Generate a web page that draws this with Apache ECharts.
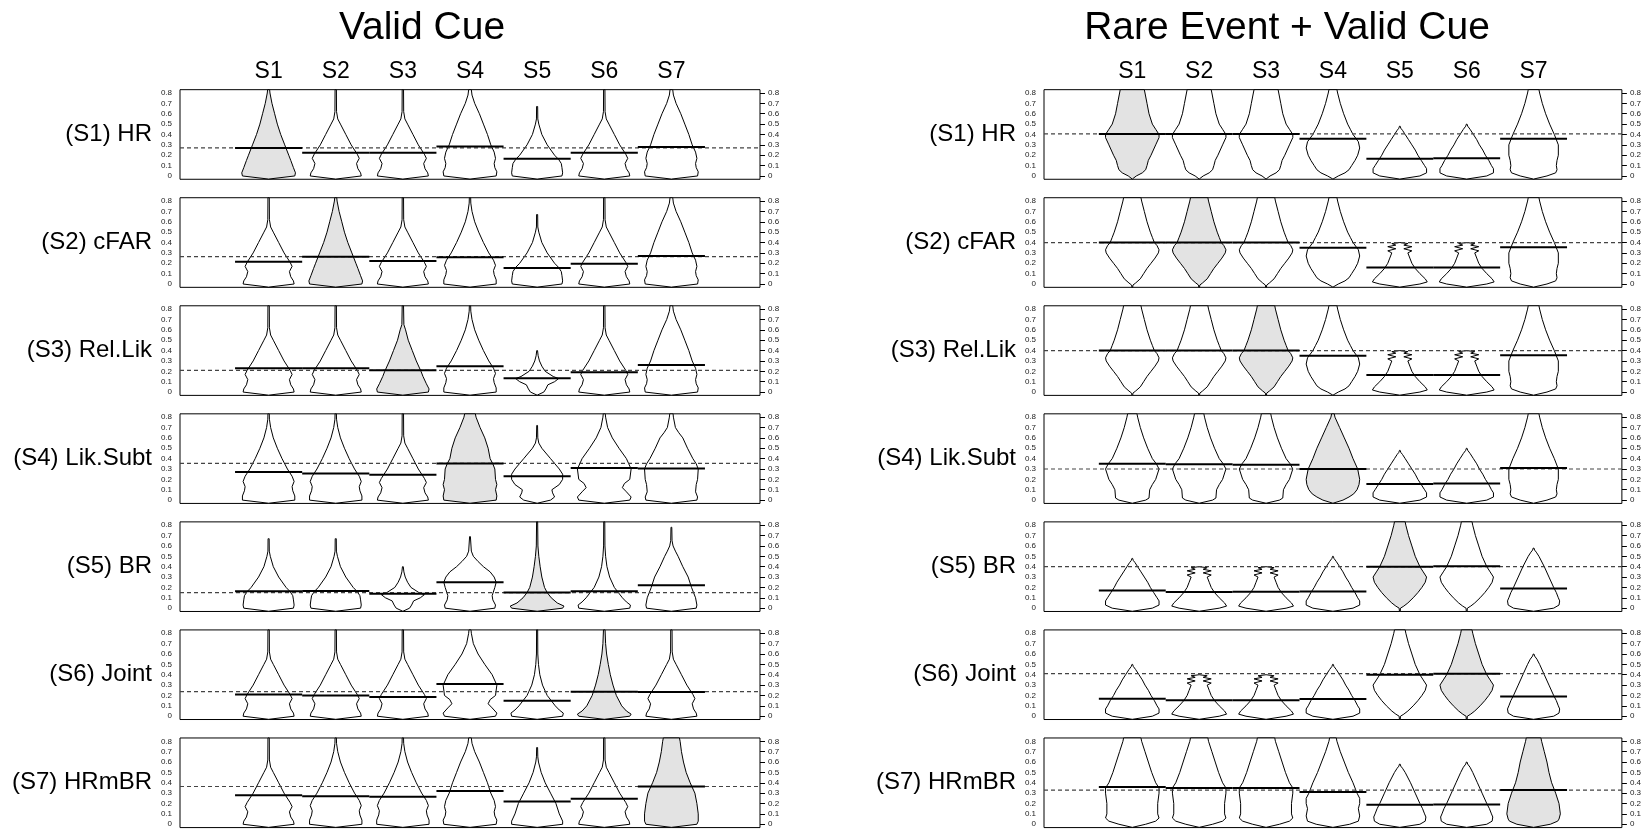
<!DOCTYPE html>
<html>
<head>
<meta charset="utf-8">
<script src="https://cdn.jsdelivr.net/npm/echarts@6/dist/echarts.min.js"></script>
<style>
  html, body { margin: 0; padding: 0; background: #ffffff; }
  #chart { width: 1644px; height: 829px; }
</style>
</head>
<body>
<div id="chart"></div>
<script>
// ---- labels ----
const panelTitles = ['Valid Cue', 'Rare Event + Valid Cue'];
const strategies = ['S1', 'S2', 'S3', 'S4', 'S5', 'S6', 'S7'];
const rowLabels = ['(S1) HR', '(S2) cFAR', '(S3) Rel.Lik', '(S4) Lik.Subt', '(S5) BR', '(S6) Joint', '(S7) HRmBR'];

// ---- mean of each evaluated strategy (columns) per generating strategy (rows) ----
const validMeans = [
  [0.27, 0.225, 0.225, 0.285, 0.165, 0.225, 0.28],
  [0.215, 0.264, 0.222, 0.257, 0.154, 0.196, 0.27],
  [0.229, 0.229, 0.21, 0.25, 0.133, 0.19, 0.26],
  [0.27, 0.256, 0.245, 0.354, 0.23, 0.31, 0.305],
  [0.163, 0.166, 0.14, 0.25, 0.15, 0.163, 0.22],
  [0.21, 0.2, 0.186, 0.31, 0.15, 0.237, 0.234],
  [0.28, 0.27, 0.265, 0.32, 0.22, 0.245, 0.364]
];
const validRef = [0.27, 0.264, 0.21, 0.354, 0.15, 0.237, 0.364];

const rareMeans = [
  [0.405, 0.405, 0.405, 0.36, 0.166, 0.17, 0.36],
  [0.40, 0.40, 0.40, 0.35, 0.16, 0.16, 0.355],
  [0.40, 0.40, 0.40, 0.35, 0.165, 0.165, 0.355],
  [0.35, 0.345, 0.34, 0.30, 0.155, 0.16, 0.31],
  [0.17, 0.155, 0.158, 0.16, 0.40, 0.405, 0.19],
  [0.168, 0.155, 0.155, 0.165, 0.40, 0.41, 0.19],
  [0.36, 0.35, 0.35, 0.31, 0.188, 0.19, 0.33]
];
const rareRef = [0.405, 0.40, 0.40, 0.30, 0.40, 0.41, 0.33];

// ---- density outlines: [value, half width] pairs, bottom to top ----
const spike = [[-0.03,0],[0,0.38],[0.03,0.37],[0.07,0.33],[0.12,0.31],[0.17,0.35],[0.21,0.32],[0.3,0.23],[0.4,0.15],[0.5,0.07],[0.55,0.03],[0.62,0.012],[0.832,0.01]];
const spikeWide = [[-0.03,0],[0,0.39],[0.04,0.39],[0.09,0.36],[0.13,0.35],[0.18,0.38],[0.23,0.35],[0.3,0.28],[0.4,0.2],[0.5,0.13],[0.6,0.07],[0.7,0.03],[0.78,0.012],[0.832,0.01]];
const spikeNarrow = [[-0.03,0],[0,0.38],[0.03,0.39],[0.06,0.33],[0.1,0.27],[0.15,0.21],[0.2,0.15],[0.3,0.08],[0.4,0.04],[0.5,0.02],[0.6,0.01],[0.832,0.008]];
const broad = [[-0.03,0],[0,0.39],[0.04,0.4],[0.08,0.37],[0.12,0.36],[0.17,0.38],[0.23,0.36],[0.3,0.31],[0.4,0.26],[0.5,0.2],[0.6,0.14],[0.7,0.07],[0.78,0.03],[0.832,0.02]];
const broadTop = [[-0.03,0],[0,0.38],[0.03,0.39],[0.08,0.36],[0.15,0.37],[0.2,0.39],[0.3,0.4],[0.35,0.37],[0.4,0.32],[0.5,0.24],[0.6,0.17],[0.65,0.11],[0.7,0.06],[0.8,0.03],[0.832,0.025]];
const short67 = [[-0.03,0],[0,0.37],[0.03,0.38],[0.08,0.37],[0.12,0.36],[0.16,0.32],[0.2,0.26],[0.3,0.15],[0.4,0.07],[0.5,0.025],[0.55,0.01],[0.67,0.008],[0.67,0]];
const short74 = [[-0.03,0],[0,0.38],[0.03,0.38],[0.1,0.33],[0.2,0.28],[0.3,0.2],[0.4,0.12],[0.5,0.06],[0.6,0.02],[0.65,0.01],[0.74,0.007],[0.74,0]];
const short78 = [[-0.03,0],[0,0.37],[0.03,0.38],[0.1,0.36],[0.15,0.33],[0.2,0.3],[0.3,0.25],[0.4,0.17],[0.5,0.1],[0.55,0.06],[0.6,0.025],[0.65,0.01],[0.78,0.006],[0.78,0]];
const small40 = [[-0.03,0],[0,0.1],[0.03,0.13],[0.07,0.16],[0.1,0.26],[0.13,0.32],[0.15,0.24],[0.2,0.12],[0.25,0.07],[0.3,0.035],[0.35,0.015],[0.4,0.006],[0.4,0]];
const waist72 = [[-0.03,0],[0,0.2],[0.03,0.26],[0.07,0.23],[0.1,0.22],[0.15,0.33],[0.2,0.38],[0.25,0.38],[0.3,0.33],[0.4,0.2],[0.5,0.07],[0.55,0.025],[0.6,0.01],[0.72,0.006],[0.72,0]];
const waistBroad = [[-0.03,0],[0,0.38],[0.03,0.4],[0.08,0.33],[0.12,0.27],[0.16,0.3],[0.2,0.38],[0.3,0.4],[0.4,0.33],[0.5,0.22],[0.6,0.12],[0.7,0.05],[0.8,0.02],[0.832,0.015]];
const bell70 = [[-0.03,0],[0,0.37],[0.03,0.38],[0.08,0.34],[0.12,0.33],[0.2,0.37],[0.25,0.39],[0.3,0.36],[0.35,0.3],[0.4,0.2],[0.45,0.12],[0.5,0.05],[0.55,0.02],[0.69,0.006],[0.69,0]];
const cone = [[-0.03,0],[0,0.39],[0.03,0.4],[0.08,0.37],[0.15,0.33],[0.2,0.3],[0.3,0.24],[0.4,0.18],[0.5,0.13],[0.6,0.09],[0.7,0.05],[0.8,0.02],[0.832,0.015]];
const coneThin = [[-0.03,0],[0,0.38],[0.03,0.39],[0.08,0.35],[0.15,0.3],[0.2,0.27],[0.3,0.2],[0.4,0.14],[0.5,0.08],[0.6,0.04],[0.65,0.015],[0.832,0.01]];
const coneWide = [[-0.03,0],[0,0.39],[0.04,0.4],[0.1,0.38],[0.15,0.4],[0.2,0.38],[0.3,0.37],[0.35,0.34],[0.4,0.3],[0.5,0.27],[0.6,0.22],[0.7,0.15],[0.8,0.09],[0.832,0.08]];
const coneNarrow = [[-0.03,0],[0,0.38],[0.02,0.4],[0.05,0.3],[0.1,0.21],[0.15,0.15],[0.2,0.11],[0.3,0.07],[0.4,0.045],[0.5,0.025],[0.6,0.012],[0.832,0.008]];
const coneNarrow2 = [[-0.03,0],[0,0.38],[0.02,0.4],[0.05,0.33],[0.1,0.26],[0.2,0.18],[0.3,0.13],[0.4,0.09],[0.5,0.06],[0.6,0.035],[0.7,0.02],[0.832,0.012]];
const column = [[-0.03,0],[0,0.38],[0.03,0.4],[0.1,0.4],[0.2,0.38],[0.3,0.35],[0.4,0.28],[0.5,0.22],[0.6,0.18],[0.7,0.15],[0.8,0.13],[0.832,0.12]];

const dia1 = [[-0.03,0],[0,0.06],[0.03,0.15],[0.06,0.2],[0.1,0.22],[0.15,0.24],[0.2,0.28],[0.3,0.35],[0.37,0.4],[0.4,0.4],[0.45,0.35],[0.5,0.3],[0.6,0.25],[0.7,0.22],[0.8,0.19],[0.832,0.18]];
const dia2 = [[-0.03,0],[-0.03,0.006],[-0.01,0.01],[0.01,0.05],[0.05,0.12],[0.1,0.17],[0.15,0.22],[0.2,0.28],[0.25,0.34],[0.3,0.39],[0.33,0.4],[0.37,0.37],[0.4,0.33],[0.45,0.3],[0.5,0.27],[0.6,0.22],[0.7,0.18],[0.8,0.14],[0.832,0.13]];
const dia3 = [[-0.03,0],[-0.03,0.006],[0,0.01],[0.02,0.06],[0.05,0.12],[0.1,0.2],[0.15,0.27],[0.2,0.33],[0.25,0.38],[0.3,0.4],[0.35,0.35],[0.4,0.3],[0.5,0.23],[0.6,0.18],[0.7,0.13],[0.8,0.09],[0.832,0.08]];
const peak30 = [[-0.03,0],[0,0.08],[0.03,0.18],[0.06,0.24],[0.1,0.28],[0.15,0.33],[0.2,0.37],[0.27,0.4],[0.33,0.38],[0.4,0.3],[0.45,0.26],[0.5,0.22],[0.6,0.16],[0.7,0.11],[0.8,0.07],[0.832,0.06]];
const peak20 = [[-0.03,0],[0,0.15],[0.03,0.24],[0.06,0.31],[0.1,0.36],[0.15,0.39],[0.2,0.4],[0.3,0.37],[0.4,0.3],[0.5,0.24],[0.6,0.17],[0.7,0.1],[0.8,0.03],[0.832,0.02]];
const tall4 = [[-0.03,0],[0,0.2],[0.02,0.25],[0.1,0.26],[0.15,0.3],[0.2,0.35],[0.3,0.4],[0.35,0.36],[0.4,0.3],[0.5,0.23],[0.6,0.17],[0.7,0.12],[0.8,0.08],[0.832,0.07]];
const rs7 = [[-0.03,0],[0,0.2],[0.03,0.33],[0.06,0.35],[0.1,0.34],[0.15,0.35],[0.2,0.37],[0.3,0.37],[0.4,0.31],[0.5,0.24],[0.6,0.18],[0.7,0.13],[0.8,0.09],[0.832,0.08]];
const bell48 = [[-0.03,0],[0,0.3],[0.03,0.4],[0.07,0.4],[0.1,0.37],[0.15,0.32],[0.2,0.27],[0.25,0.23],[0.3,0.18],[0.35,0.13],[0.4,0.08],[0.44,0.04],[0.46,0.015],[0.48,0.005],[0.48,0]];
const bell50 = [[-0.03,0],[0,0.3],[0.03,0.4],[0.07,0.4],[0.1,0.37],[0.15,0.33],[0.2,0.28],[0.25,0.24],[0.3,0.19],[0.35,0.15],[0.4,0.1],[0.45,0.05],[0.48,0.015],[0.5,0.005],[0.5,0]];
const bell58 = [[-0.03,0],[0,0.3],[0.03,0.38],[0.07,0.39],[0.1,0.37],[0.15,0.34],[0.2,0.3],[0.3,0.23],[0.4,0.16],[0.5,0.08],[0.54,0.04],[0.56,0.015],[0.58,0.005],[0.58,0]];
const bell60 = [[-0.03,0],[0,0.3],[0.03,0.38],[0.07,0.39],[0.1,0.37],[0.15,0.34],[0.2,0.3],[0.3,0.23],[0.4,0.16],[0.5,0.09],[0.55,0.05],[0.58,0.015],[0.6,0.005],[0.6,0]];
const zig = [[-0.03,0],[0,0.3],[0.02,0.41],[0.05,0.38],[0.1,0.3],[0.15,0.23],[0.2,0.18],[0.25,0.15],[0.3,0.12],[0.32,0.18],[0.34,0.06],[0.36,0.18],[0.375,0.06],[0.39,0.12],[0.4,0]];
const tallTop = [[-0.03,0],[0,0.2],[0.03,0.35],[0.06,0.4],[0.1,0.38],[0.2,0.38],[0.3,0.4],[0.35,0.4],[0.4,0.35],[0.5,0.29],[0.6,0.24],[0.7,0.19],[0.8,0.14],[0.832,0.13]];
const tallTop4 = [[-0.03,0],[0,0.25],[0.03,0.38],[0.08,0.4],[0.15,0.38],[0.2,0.4],[0.25,0.4],[0.3,0.36],[0.4,0.3],[0.5,0.23],[0.6,0.17],[0.7,0.11],[0.8,0.06],[0.832,0.05]];
const column7 = [[-0.03,0],[0,0.25],[0.03,0.36],[0.05,0.38],[0.1,0.4],[0.2,0.38],[0.3,0.33],[0.4,0.27],[0.5,0.23],[0.6,0.2],[0.7,0.16],[0.8,0.12],[0.832,0.11]];

const profiles = {
  spike, spikeWide, spikeNarrow, broad, broadTop, short67, short74, short78, small40,
  waist72, waistBroad, bell70, cone, coneThin, coneWide, coneNarrow, coneNarrow2, column,
  dia1, dia2, dia3, peak30, peak20, tall4, rs7, bell48, bell50, bell58, bell60, zig,
  tallTop, tallTop4, column7
};

// outline used for each cell (row = generating strategy, column = evaluated strategy)
const validShapes = [
  ['cone', 'spike', 'spike', 'broad', 'short67', 'spike', 'broad'],
  ['spike', 'cone', 'spike', 'spikeWide', 'short67', 'spike', 'broad'],
  ['spike', 'spike', 'coneThin', 'spikeWide', 'small40', 'spike', 'broad'],
  ['spikeWide', 'spikeWide', 'spike', 'coneWide', 'waist72', 'waistBroad', 'broadTop'],
  ['short67', 'short67', 'small40', 'bell70', 'coneNarrow', 'spikeNarrow', 'short78'],
  ['spike', 'spike', 'spike', 'waistBroad', 'spikeNarrow', 'coneNarrow2', 'spike'],
  ['spike', 'spikeWide', 'spikeWide', 'broad', 'short74', 'spike', 'column']
];
const rareShapes = [
  ['dia1', 'dia1', 'dia1', 'peak30', 'bell48', 'bell50', 'rs7'],
  ['dia2', 'dia2', 'dia2', 'peak30', 'zig', 'zig', 'rs7'],
  ['dia2', 'dia2', 'dia2', 'peak30', 'zig', 'zig', 'rs7'],
  ['tall4', 'tall4', 'tall4', 'peak20', 'bell48', 'bell50', 'rs7'],
  ['bell48', 'zig', 'zig', 'bell50', 'dia3', 'dia3', 'bell58'],
  ['bell50', 'zig', 'zig', 'bell50', 'dia3', 'dia3', 'bell60'],
  ['tallTop', 'tallTop', 'tallTop', 'tallTop4', 'bell58', 'bell60', 'column7']
];

// ---- layout ----
const FONT = '"Liberation Sans", Arial, Helvetica, sans-serif';
const PANEL_LEFT = [180, 1044];
const PANEL_WIDTH = [580, 579];
const ROW_STEP = 108.05;
const TICK_TOP = 93.0;          // pixel row of the 0.8 tick in the first row
const TICK_SPAN = 82.96;        // pixels from 0 to 0.8
const X_MIN = -0.32, X_MAX = 8.32;   // frame extents on the strategy axis
const Y_MIN = -0.032, Y_MAX = 0.832; // frame extents on the value axis

const panels = [
  { title: panelTitles[0], titleX: 422, means: validMeans, ref: validRef, shapes: validShapes },
  { title: panelTitles[1], titleX: 1287, means: rareMeans, ref: rareRef, shapes: rareShapes }
];

const grids = [], xAxes = [], yAxes = [], series = [], graphics = [];
const tickFmt = v => (v === 0 ? '0' : v.toFixed(1));

panels.forEach((panel, p) => {
  graphics.push({
    type: 'text', x: panel.titleX, y: 28,
    style: { text: panel.title, font: '39px ' + FONT, fill: '#000', textAlign: 'center', textVerticalAlign: 'middle' }
  });
  for (let r = 0; r < 7; r++) {
    const g = grids.length;
    const top = TICK_TOP + ROW_STEP * r;
    grids.push({ left: PANEL_LEFT[p], top: top, width: PANEL_WIDTH[p], height: TICK_SPAN, show: false });
    xAxes.push({
      gridIndex: g, type: 'value', min: X_MIN, max: X_MAX, position: 'top',
      axisLine: { show: false }, axisTick: { show: false }, splitLine: { show: false },
      axisLabel: r === 0 ? {
        show: true, customValues: [1, 2, 3, 4, 5, 6, 7], margin: 10,
        formatter: v => strategies[Math.round(v) - 1],
        fontFamily: FONT, fontSize: 23, color: '#000'
      } : { show: false }
    });
    ['left', 'right'].forEach(pos => {
      yAxes.push({
        gridIndex: g, type: 'value', min: 0, max: 0.8, interval: 0.1, position: pos,
        axisLine: { show: false }, splitLine: { show: false },
        axisTick: { show: true, inside: false, length: 5, lineStyle: { color: '#000', width: 1 } },
        axisLabel: { show: true, formatter: tickFmt, margin: 8, fontFamily: FONT, fontSize: 8, color: '#222' }
      });
    });
    graphics.push({
      type: 'text', x: PANEL_LEFT[p] - 28, y: top + TICK_SPAN / 2,
      style: { text: rowLabels[r], font: '24px ' + FONT, fill: '#000', textAlign: 'right', textVerticalAlign: 'middle' }
    });

    const shapes = panel.shapes[r];
    // plot frame
    series.push({
      type: 'custom', xAxisIndex: g, yAxisIndex: 2 * g, z: 1, silent: true,
      data: [[X_MIN, Y_MAX]],
      renderItem: (params, api) => {
        const a = api.coord([X_MIN, Y_MAX]);
        const b = api.coord([X_MAX, Y_MIN]);
        return {
          type: 'rect',
          shape: { x: a[0], y: a[1], width: b[0] - a[0], height: b[1] - a[1] },
          style: { fill: '#fff', stroke: '#000', lineWidth: 1 }
        };
      }
    });
    // violins
    series.push({
      type: 'custom', xAxisIndex: g, yAxisIndex: 2 * g, z: 2, silent: true,
      data: strategies.map((s, c) => [c + 1, panel.means[r][c]]),
      renderItem: (params, api) => {
        const c = params.dataIndex;
        const prof = profiles[shapes[c]];
        const x = api.value(0);
        const right = prof.map(([y, w]) => api.coord([x + w, y]));
        const left = prof.slice().reverse().map(([y, w]) => api.coord([x - w, y]));
        return {
          type: 'polygon',
          shape: { points: right.concat(left) },
          style: { fill: c === r ? '#e3e3e3' : '#ffffff', stroke: '#000', lineWidth: 1 }
        };
      }
    });
    // dashed reference line across the whole frame
    series.push({
      type: 'custom', xAxisIndex: g, yAxisIndex: 2 * g, z: 3, silent: true,
      data: [[0, panel.ref[r]]],
      renderItem: (params, api) => {
        const a = api.coord([X_MIN, api.value(1)]);
        const b = api.coord([X_MAX, api.value(1)]);
        return {
          type: 'line',
          shape: { x1: a[0], y1: a[1], x2: b[0], y2: b[1] },
          style: { stroke: '#444', lineWidth: 1.2, lineDash: [4, 3] }
        };
      }
    });
    // mean of each strategy
    series.push({
      type: 'custom', xAxisIndex: g, yAxisIndex: 2 * g, z: 4, silent: true,
      data: strategies.map((s, c) => [c + 1, panel.means[r][c]]),
      renderItem: (params, api) => {
        const a = api.coord([api.value(0) - 0.5, api.value(1)]);
        const b = api.coord([api.value(0) + 0.5, api.value(1)]);
        return {
          type: 'line',
          shape: { x1: a[0], y1: a[1], x2: b[0], y2: b[1] },
          style: { stroke: '#000', lineWidth: 2 }
        };
      }
    });
  }
});

const chart = echarts.init(document.getElementById('chart'), null, { renderer: 'canvas' });
chart.setOption({
  animation: false,
  backgroundColor: '#ffffff',
  grid: grids,
  xAxis: xAxes,
  yAxis: yAxes,
  series: series,
  graphic: graphics
});
</script>
</body>
</html>
